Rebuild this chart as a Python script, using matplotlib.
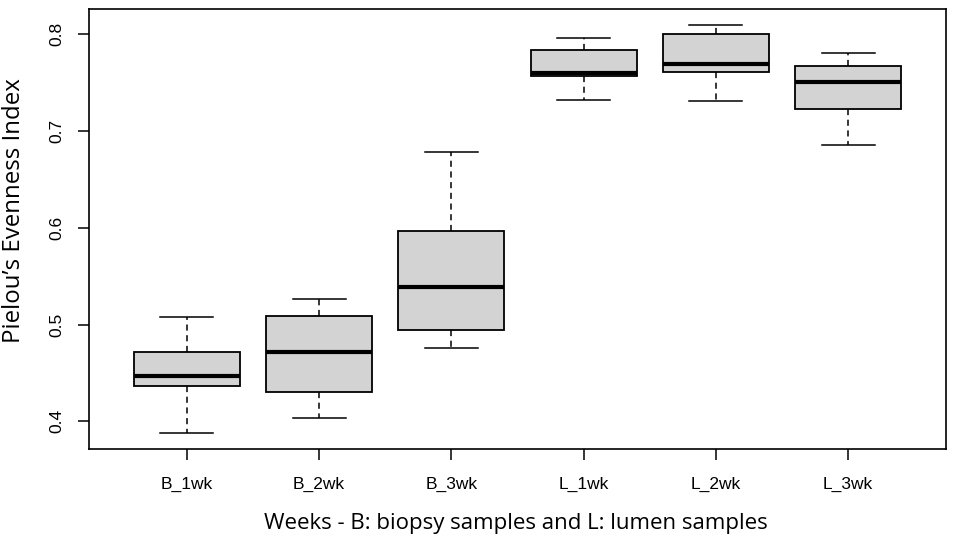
import matplotlib
matplotlib.use('Agg')
import matplotlib.pyplot as plt

# Box statistics (R-style boxplot)
groups = ['B_1wk', 'B_2wk', 'B_3wk', 'L_1wk', 'L_2wk', 'L_3wk']
whisker_low = [0.3883, 0.4038, 0.4753, 0.7323, 0.7313, 0.6856]
q1 = [0.4361, 0.4299, 0.4945, 0.7564, 0.7612, 0.7227]
median = [0.4467, 0.4718, 0.5385, 0.7598, 0.7688, 0.7505]
q3 = [0.4714, 0.5090, 0.5962, 0.7835, 0.8000, 0.7667]
whisker_high = [0.5075, 0.5268, 0.6784, 0.7955, 0.8090, 0.7801]
yticks = [0.4, 0.5, 0.6, 0.7, 0.8]

stats = []
for i, g in enumerate(groups):
    stats.append({'label': g, 'whislo': whisker_low[i], 'q1': q1[i], 'med': median[i],
                  'q3': q3[i], 'whishi': whisker_high[i]})

fig = plt.figure(figsize=(9.57, 5.38), dpi=100)
ax = fig.add_axes([89/957, 89/538, 857/957, 440/538])

positions = list(range(1, len(groups) + 1))
ax.bxp(stats, positions=positions, widths=0.8, showfliers=False, patch_artist=True,
       boxprops=dict(facecolor='#d3d3d3', edgecolor='black', linewidth=1.3),
       medianprops=dict(color='black', linewidth=3, solid_capstyle='butt'),
       whiskerprops=dict(color='black', linewidth=1.1, linestyle=(0, (4, 3))),
       capprops=dict(color='black', linewidth=1.1), capwidths=0.4)

lo = min(whisker_low)
hi = max(whisker_high)
pad = (hi - lo) * 0.04
ax.set_ylim(lo - pad, hi + pad)
ax.set_xlim(0.26, 6.74)

ax.set_yticks(yticks)
ax.set_yticklabels([f'{v:.1f}' for v in yticks], rotation=90, va='center',
                   family='Liberation Sans', fontsize=12.5)
ax.set_xticks(positions)
ax.set_xticklabels(groups, family='Liberation Sans', fontsize=12.5)
ax.tick_params(axis='both', direction='out', length=8, width=1.1, color='black')
ax.tick_params(axis='x', pad=12)
ax.tick_params(axis='y', pad=10)
for s in ax.spines.values():
    s.set_linewidth(1.2)

# axis titles were placed a bit off-centre in the original
fig.text(516/957, 1 - 523/538, 'Weeks - B: biopsy samples and L: lumen samples',
         family='Open Sans', fontsize=16, ha='center', va='center')
fig.text(14/957, 1 - 211/538, 'Pielou\u2019s Evenness Index', family='Open Sans',
         fontsize=17.3, rotation=90, ha='center', va='center')

fig.savefig('out.png', dpi=100)
